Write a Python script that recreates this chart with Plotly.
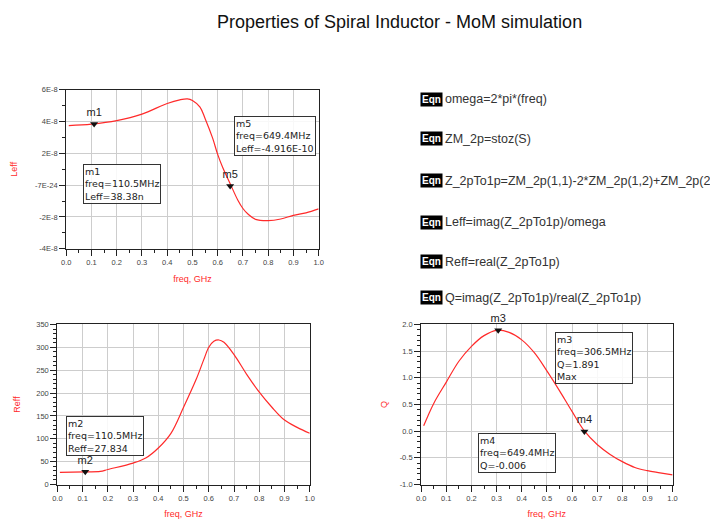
import plotly.graph_objects as go

# the page body adds an 8px margin, so the figure is drawn 8px smaller and
# every pixel position below is given in window coordinates
WIN_W, WIN_H = 718, 521
OFF = 8
W, H = WIN_W - OFF, WIN_H - OFF
RED = "#ff2a2a"
FONT = "Liberation Sans, Arial, sans-serif"
BOXFONT = "DejaVu Sans, sans-serif"

# ---- data (freq in GHz) ----
leff_freq = [0.01, 0.10, 0.20, 0.30, 0.40, 0.45, 0.48, 0.50, 0.53, 0.55, 0.58, 0.60,
             0.62, 0.65, 0.68, 0.70, 0.72, 0.75, 0.80, 0.85, 0.90, 0.95, 1.00]
leff_nH = [37.4, 38.3, 40.5, 44.6, 51.3, 53.6, 54.2, 53.2, 49.0, 41.9, 29.5, 19.3,
           11.0, 0.7, -9.5, -14.7, -18.2, -21.5, -22.3, -21.3, -19.0, -17.4, -14.9]

reff_freq = [0.01, 0.11, 0.17, 0.20, 0.30, 0.35, 0.40, 0.45, 0.50, 0.55, 0.58, 0.60,
             0.62, 0.64, 0.66, 0.70, 0.75, 0.80, 0.85, 0.90, 0.95, 1.00]
reff = [26.5, 27.8, 28.7, 33, 47, 58, 80, 112, 169, 230, 273, 300,
        313, 316, 311, 284, 241, 202, 169, 141, 125, 112]

q_freq = [0.01, 0.05, 0.10, 0.15, 0.20, 0.25, 0.30, 0.35, 0.40, 0.45, 0.50, 0.55,
          0.60, 0.65, 0.70, 0.75, 0.80, 0.85, 0.90, 0.95, 1.00]
q = [0.10, 0.52, 0.92, 1.31, 1.59, 1.79, 1.89, 1.85, 1.71, 1.47, 1.13, 0.76,
     0.37, 0.00, -0.25, -0.43, -0.57, -0.68, -0.74, -0.78, -0.82]

# markers: name, freq (GHz), value
leff_markers = [("m1", 0.1105, 38.38), ("m5", 0.6494, -0.4916)]
reff_markers = [("m2", 0.1105, 27.834)]
q_markers = [("m3", 0.3065, 1.891), ("m4", 0.6494, -0.006)]

leff_ticks = [6e-8, 4e-8, 2e-8, 0, -2e-8, -4e-8]
leff_ticktext = ["6E-8", "4E-8", "2E-8", "-7E-24", "-2E-8", "-4E-8"]
freq_ticks = [0.0, 0.1, 0.2, 0.3, 0.4, 0.5, 0.6, 0.7, 0.8, 0.9, 1.0]
reff_ticks = [0, 50, 100, 150, 200, 250, 300, 350]
q_ticks = [-1.0, -0.5, 0.0, 0.5, 1.0, 1.5, 2.0]

equations = [
    "omega=2*pi*(freq)",
    "ZM_2p=stoz(S)",
    "Z_2pTo1p=ZM_2p(1,1)-2*ZM_2p(1,2)+ZM_2p(2,2)",
    "Leff=imag(Z_2pTo1p)/omega",
    "Reff=real(Z_2pTo1p)",
    "Q=imag(Z_2pTo1p)/real(Z_2pTo1p)",
]
eq_y = [97, 137, 180, 222, 262, 299]


def px(x):
    return (x - OFF) / W


def py(y):
    return 1 - (y - OFF) / H


fig = go.Figure()

# plot areas in window pixels: (x0, x1, y0, y1)
areas = {
    "": (62, 318, 87, 249),
    "2": (53, 309, 326, 489),
    "3": (422, 677, 326, 489),
}

series = [
    ("", leff_freq, [v * 1e-9 for v in leff_nH], leff_markers, 1e-9),
    ("2", reff_freq, reff, reff_markers, 1),
    ("3", q_freq, q, q_markers, 1),
]
for ax, xs, ys, marks, scale in series:
    fig.add_trace(go.Scatter(x=xs, y=ys, mode="lines", line=dict(color=RED, width=1.2, shape="spline"),
                             xaxis="x" + ax, yaxis="y" + ax, showlegend=False, cliponaxis=False))
    fig.add_trace(go.Scatter(
        x=[m[1] for m in marks], y=[m[2] * scale for m in marks],
        mode="markers+text", text=[m[0] for m in marks], textposition="top center",
        textfont=dict(size=11, color="#222", family=FONT),
        marker=dict(symbol="triangle-down", size=7, color="#111"),
        xaxis="x" + ax, yaxis="y" + ax, showlegend=False, cliponaxis=False))

common_axis = dict(
    showline=True, mirror=True, linecolor="#222", linewidth=1.2,
    showgrid=True, gridcolor="#cdcdcd", gridwidth=1, zeroline=False,
    ticks="outside", ticklen=6, tickcolor="#222",
    tickfont=dict(size=7.5, color="#444", family=FONT),
)
xaxis_common = dict(common_axis, range=[0, 1], tickvals=freq_ticks,
                    ticktext=[f"{t:.1f}" for t in freq_ticks],
                    minor=dict(ticks="outside", ticklen=3, dtick=0.05, tickcolor="#222"),
                    title=dict(text="freq, GHz", font=dict(size=9, color=RED, family=FONT), standoff=9))

layout = {}
for ax, (x0, x1, y0, y1) in areas.items():
    layout["xaxis" + ax] = dict(xaxis_common, domain=[px(x0), px(x1)], anchor="y" + ax)

ytitle = dict(size=9, color=RED, family=FONT)
layout["yaxis"] = dict(common_axis, domain=[py(249), py(87)], anchor="x", range=[-4e-8, 6e-8],
                       tickvals=leff_ticks, ticktext=leff_ticktext,
                       minor=dict(ticks="outside", ticklen=3, dtick=1e-8, tickcolor="#222"),
                       title=dict(text="Leff", font=ytitle, standoff=15))
layout["yaxis2"] = dict(common_axis, domain=[py(489), py(326)], anchor="x2", range=[0, 350],
                        tickvals=reff_ticks,
                        minor=dict(ticks="outside", ticklen=3, dtick=10, tickcolor="#222"),
                        title=dict(text="Reff", font=ytitle, standoff=14))
layout["yaxis3"] = dict(common_axis, domain=[py(489), py(326)], anchor="x3", range=[-1, 2],
                        tickvals=q_ticks, ticktext=[f"{t:.1f}" for t in q_ticks],
                        minor=dict(ticks="outside", ticklen=3, dtick=0.1, tickcolor="#222"),
                        title=dict(text="Q", font=ytitle, standoff=10))

annotations = []
# marker readout boxes: (window pixel x, y of top-left corner, text)
readouts = [
    (79, 163, "m1<br>freq=110.5MHz<br>Leff=38.38n"),
    (232, 114, "m5<br>freq=649.4MHz<br>Leff=-4.916E-10"),
    (62, 419, "m2<br>freq=110.5MHz<br>Reff=27.834"),
    (558, 334, "m3<br>freq=306.5MHz<br>Q=1.891<br>Max"),
    (480, 437, "m4<br>freq=649.4MHz<br>Q=-0.006"),
]
for x, y, t in readouts:
    annotations.append(dict(xref="paper", yref="paper", x=px(x), y=py(y), xanchor="left", yanchor="top",
                            text=t, showarrow=False, align="left", bgcolor="rgba(255,255,255,0.85)",
                            bordercolor="#333", borderwidth=1, borderpad=1,
                            font=dict(size=9.5, color="#222", family=BOXFONT)))

for t, y in zip(equations, eq_y):
    annotations.append(dict(xref="paper", yref="paper", x=px(421), y=py(y), xanchor="left", yanchor="middle",
                            text="<b>Eqn</b>", showarrow=False, bgcolor="#000", borderpad=1,
                            font=dict(size=10, color="#fff", family=FONT)))
    annotations.append(dict(xref="paper", yref="paper", x=px(444), y=py(y), xanchor="left", yanchor="middle",
                            text=t, showarrow=False, font=dict(size=12.5, color="#333", family=FONT)))

annotations.append(dict(xref="paper", yref="paper", x=px(400), y=py(18), xanchor="center", yanchor="middle",
                        text="Properties of Spiral Inductor - MoM simulation", showarrow=False,
                        font=dict(size=18, color="#111", family=FONT)))

fig.update_layout(
    width=W, height=H, margin=dict(l=0, r=0, t=0, b=0),
    paper_bgcolor="white", plot_bgcolor="white",
    annotations=annotations, **layout,
)

fig.write_html("out.html")
